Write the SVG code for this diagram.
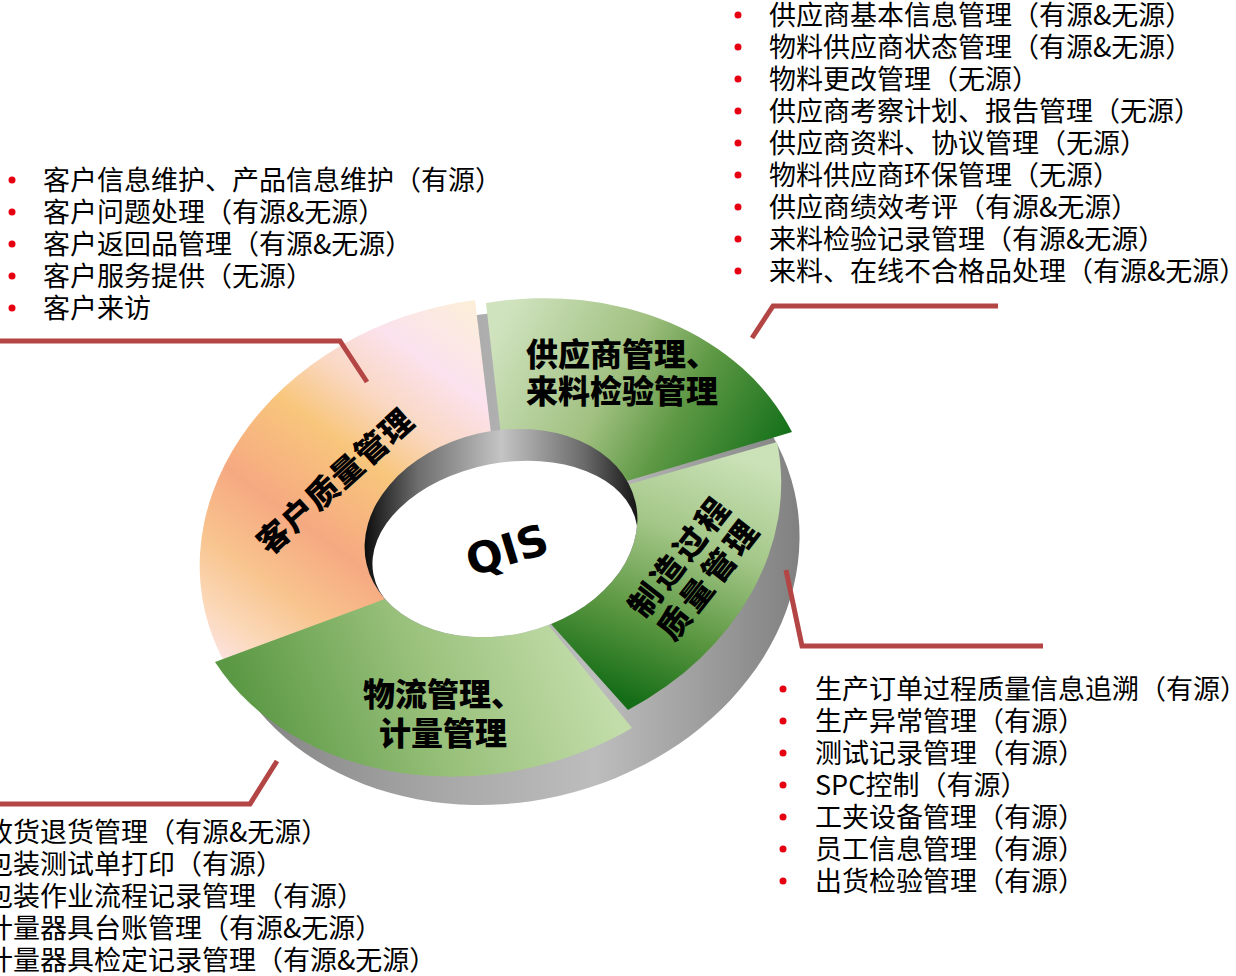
<svg xmlns="http://www.w3.org/2000/svg" width="1236" height="976" viewBox="0 0 1236 976">
<style>
.list{font-family:"Noto Sans CJK SC","Noto Sans",sans-serif;font-size:27px;fill:#000}
.seg{font-family:"Noto Sans CJK SC","Noto Sans",sans-serif;font-size:32px;font-weight:900;fill:#000}
.qis{font-family:"DejaVu Sans","Liberation Sans",sans-serif;font-size:43px;font-weight:bold;fill:#000}
.dot{fill:#e60012}
.conn{fill:none;stroke:#b34545;stroke-width:5;stroke-linejoin:miter}
</style>
<defs>
<linearGradient id="gBase" gradientUnits="userSpaceOnUse" x1="-300" y1="0" x2="300" y2="0" gradientTransform="rotate(13)">
<stop offset="0" stop-color="#7a7a7a"/><stop offset="0.15" stop-color="#8c8c8c"/><stop offset="0.4" stop-color="#a8a8a8"/><stop offset="0.65" stop-color="#bdbdbd"/><stop offset="0.8" stop-color="#a3a3a3"/><stop offset="1" stop-color="#7f7f7f"/>
</linearGradient>
<linearGradient id="gCust" gradientUnits="userSpaceOnUse" x1="480" y1="305" x2="215" y2="665">
<stop offset="0" stop-color="#fcefd8"/><stop offset="0.17" stop-color="#fbe2ee"/><stop offset="0.3" stop-color="#fad8c4"/><stop offset="0.43" stop-color="#f8c67c"/><stop offset="0.63" stop-color="#f6a981"/><stop offset="0.78" stop-color="#f8c48e"/><stop offset="0.9" stop-color="#fbd8b8"/><stop offset="1" stop-color="#fde4e6"/>
</linearGradient>
<linearGradient id="gSup" gradientUnits="userSpaceOnUse" x1="500" y1="320" x2="770" y2="470">
<stop offset="0" stop-color="#d0e3bf"/><stop offset="0.42" stop-color="#a0c080"/><stop offset="0.65" stop-color="#5f9945"/><stop offset="1" stop-color="#15701a"/>
</linearGradient>
<linearGradient id="gMfg" gradientUnits="userSpaceOnUse" x1="740" y1="455" x2="640" y2="705">
<stop offset="0" stop-color="#cbe2b8"/><stop offset="0.35" stop-color="#a4c788"/><stop offset="0.7" stop-color="#5a9640"/><stop offset="1" stop-color="#156d17"/>
</linearGradient>
<linearGradient id="gLog" gradientUnits="userSpaceOnUse" x1="260" y1="760" x2="590" y2="640">
<stop offset="0" stop-color="#5a9843"/><stop offset="0.5" stop-color="#98c07a"/><stop offset="1" stop-color="#c3ddaa"/>
</linearGradient>
<linearGradient id="gWall" gradientUnits="userSpaceOnUse" x1="-138" y1="0" x2="139" y2="0" gradientTransform="rotate(13)">
<stop offset="0" stop-color="#0a0a0a"/><stop offset="0.2" stop-color="#6e6e6e"/><stop offset="0.5" stop-color="#c4c4c4"/><stop offset="0.8" stop-color="#6a6a6a"/><stop offset="1" stop-color="#111"/>
</linearGradient>
<clipPath id="holeClip"><ellipse cx="0" cy="0" rx="138" ry="102" transform="translate(501,533) rotate(-13)"/></clipPath>
</defs>

<g id="ring-base">
<ellipse cx="0" cy="0" rx="297" ry="244" transform="translate(505,558) rotate(-13)" fill="url(#gBase)"/>
</g>

<g id="node-customer">
<path d="M475,300 A298,244 -13 0 0 227,667 L450,571 L499,500 Z" fill="url(#gCust)"/>
<text class="seg" transform="translate(335,481) rotate(-42)" x="0" y="12" text-anchor="middle" letter-spacing="1">客户质量管理</text>
</g>

<g id="node-manufacturing">
<path d="M777,442 A298,244 -13 0 1 628,710 L525,595 L560,504 Z" fill="url(#gMfg)"/>
<text class="seg" transform="translate(694,567) rotate(-52)" text-anchor="middle" letter-spacing="4"><tspan x="0" y="-6">制造过程</tspan><tspan x="0" y="31">质量管理</tspan></text>
</g>

<g id="node-supplier">
<path d="M486,303 A298,244 -13 0 1 792,432 L637,478 L560,501 L506,480 Z" fill="url(#gSup)"/>
<text class="seg"><tspan x="526" y="366">供应商管理、</tspan><tspan x="526" y="403">来料检验管理</tspan></text>
</g>

<g id="node-logistics">
<path d="M215,662 A298,244 -13 0 0 632,728 L520,590 L450,575 Z" fill="url(#gLog)"/>
<text class="seg" text-anchor="middle"><tspan x="443" y="706">物流管理、</tspan><tspan x="443" y="745">计量管理</tspan></text>
</g>

<g id="node-qis">
<ellipse cx="0" cy="0" rx="138" ry="102" transform="translate(501,533) rotate(-13)" fill="url(#gWall)"/>
<g clip-path="url(#holeClip)">
<ellipse cx="0" cy="0" rx="134" ry="86" transform="translate(505,549) rotate(-11)" fill="#fff"/>
</g>
<text class="qis" transform="translate(507,550) rotate(-17)" x="0" y="15" text-anchor="middle">QIS</text>
</g>

<g id="connectors">
<polyline class="conn" points="0,341 340,341 367,382"/>
<polyline class="conn" points="752,338 773,306 998,306"/>
<polyline class="conn" points="786,570 802,646 1043,646"/>
<polyline class="conn" points="277,761 250,804 0,804"/>
</g>

<g id="list-customer">
<circle class="dot" cx="12" cy="180" r="3.5"/><circle class="dot" cx="12" cy="212" r="3.5"/><circle class="dot" cx="12" cy="244" r="3.5"/><circle class="dot" cx="12" cy="276" r="3.5"/><circle class="dot" cx="12" cy="308" r="3.5"/>
<text class="list" x="43" y="190">客户信息维护、产品信息维护（有源）</text>
<text class="list" x="43" y="222">客户问题处理（有源&amp;无源）</text>
<text class="list" x="43" y="254">客户返回品管理（有源&amp;无源）</text>
<text class="list" x="43" y="286">客户服务提供（无源）</text>
<text class="list" x="43" y="318">客户来访</text>
</g>

<g id="list-supplier">
<circle class="dot" cx="738" cy="15" r="3.5"/><circle class="dot" cx="738" cy="47" r="3.5"/><circle class="dot" cx="738" cy="79" r="3.5"/><circle class="dot" cx="738" cy="111" r="3.5"/><circle class="dot" cx="738" cy="143" r="3.5"/><circle class="dot" cx="738" cy="175" r="3.5"/><circle class="dot" cx="738" cy="207" r="3.5"/><circle class="dot" cx="738" cy="239" r="3.5"/><circle class="dot" cx="738" cy="271" r="3.5"/>
<text class="list" x="769" y="25">供应商基本信息管理（有源&amp;无源）</text>
<text class="list" x="769" y="57">物料供应商状态管理（有源&amp;无源）</text>
<text class="list" x="769" y="89">物料更改管理（无源）</text>
<text class="list" x="769" y="121">供应商考察计划、报告管理（无源）</text>
<text class="list" x="769" y="153">供应商资料、协议管理（无源）</text>
<text class="list" x="769" y="185">物料供应商环保管理（无源）</text>
<text class="list" x="769" y="217">供应商绩效考评（有源&amp;无源）</text>
<text class="list" x="769" y="249">来料检验记录管理（有源&amp;无源）</text>
<text class="list" x="769" y="281">来料、在线不合格品处理（有源&amp;无源）</text>
</g>

<g id="list-manufacturing">
<circle class="dot" cx="783" cy="689" r="3.5"/><circle class="dot" cx="783" cy="721" r="3.5"/><circle class="dot" cx="783" cy="753" r="3.5"/><circle class="dot" cx="783" cy="785" r="3.5"/><circle class="dot" cx="783" cy="817" r="3.5"/><circle class="dot" cx="783" cy="849" r="3.5"/><circle class="dot" cx="783" cy="881" r="3.5"/>
<text class="list" x="815" y="699">生产订单过程质量信息追溯（有源）</text>
<text class="list" x="815" y="731">生产异常管理（有源）</text>
<text class="list" x="815" y="763">测试记录管理（有源）</text>
<text class="list" x="815" y="795">SPC控制（有源）</text>
<text class="list" x="815" y="827">工夹设备管理（有源）</text>
<text class="list" x="815" y="859">员工信息管理（有源）</text>
<text class="list" x="815" y="891">出货检验管理（有源）</text>
</g>

<g id="list-logistics">
<text class="list" x="-14" y="842">收货退货管理（有源&amp;无源）</text>
<text class="list" x="-14" y="874">包装测试单打印（有源）</text>
<text class="list" x="-14" y="906">包装作业流程记录管理（有源）</text>
<text class="list" x="-14" y="938">计量器具台账管理（有源&amp;无源）</text>
<text class="list" x="-14" y="970">计量器具检定记录管理（有源&amp;无源）</text>
</g>
</svg>
